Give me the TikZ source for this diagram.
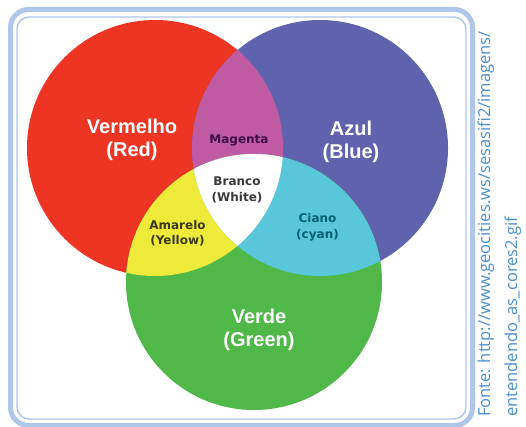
\documentclass[tikz,border=0pt]{standalone}
\usepackage{fontspec}
\newfontfamily\bigfont{Liberation Sans}
\newfontfamily\smallfont{DejaVu Sans}
\newfontfamily\srcfont{Open Sans}
\definecolor{cred}{HTML}{EE3524}
\definecolor{cblue}{HTML}{5F63AD}
\definecolor{cgreen}{HTML}{4FB848}
\definecolor{cmag}{HTML}{C05BA3}
\definecolor{cyel}{HTML}{EEEA3A}
\definecolor{ccyan}{HTML}{58C7DA}
\definecolor{frame}{HTML}{AEC6E7}
\definecolor{src}{HTML}{4B8FD1}
\definecolor{tmag}{HTML}{3D0A4A}
\definecolor{tgray}{HTML}{3A3A3A}
\definecolor{tyel}{HTML}{3A3A10}
\definecolor{tcyan}{HTML}{006070}
\tikzset{
  biglabel/.style={align=center, inner sep=0pt, text=white, font=\bigfont\bfseries\fontsize{20}{23}\selectfont},
  smalllabel/.style={align=center, inner sep=0pt, font=\smallfont\bfseries\fontsize{12}{15.5}\selectfont},
  srclabel/.style={inner sep=0pt, rotate=90, anchor=base west, text=src, font=\srcfont\fontsize{16.5}{20}\selectfont}
}
\begin{document}
\begin{tikzpicture}[x=1pt,y=-1pt]
\useasboundingbox (0,0) rectangle (526,427);
\fill[white] (0,0) rectangle (526,427);
% frame
\draw[frame, line width=5pt, rounded corners=18pt] (10.5,9.5) rectangle (472.5,425.5);
\draw[frame, line width=1.4pt, rounded corners=12pt] (17,17) rectangle (466,419);
% circle centres
\coordinate (cR) at (155,148);
\coordinate (cB) at (320,148);
\coordinate (cG) at (254,282);
\def\rr{128pt}
% primaries
\fill[cred] (cR) circle[radius=\rr];
\fill[cblue] (cB) circle[radius=\rr];
\fill[cgreen] (cG) circle[radius=\rr];
% overlaps
\begin{scope}
  \clip (cR) circle[radius=\rr];
  \fill[cmag] (cB) circle[radius=\rr];
  \fill[cyel] (cG) circle[radius=\rr];
\end{scope}
\begin{scope}
  \clip (cB) circle[radius=\rr];
  \fill[ccyan] (cG) circle[radius=\rr];
\end{scope}
\begin{scope}
  \clip (cR) circle[radius=\rr];
  \clip (cB) circle[radius=\rr];
  \fill[white] (cG) circle[radius=\rr];
\end{scope}
% labels
\node[biglabel] (lred) at (132,140) {Vermelho\\(Red)};
\node[biglabel] (lblue) at (351,142) {Azul\\(Blue)};
\node[biglabel] (lgreen) at (259,330) {Verde\\(Green)};
\node[smalllabel, text=tmag] (lmag) at (239,140) {Magenta};
\node[smalllabel, text=tgray] (lwhite) at (237,190) {Branco\\(White)};
\node[smalllabel, text=tyel] (lyel) at (177.5,233) {Amarelo\\(Yellow)};
\node[smalllabel, text=tcyan] (lcyan) at (317.5,227) {Ciano\\(cyan)};
% source
\node[srclabel] (src1) at (490,417) {Fonte: http://www.geocities.ws/sesasifi2/imagens/};
\node[srclabel] (src2) at (517,417) {entendendo\_as\_cores2.gif};
\end{tikzpicture}
\end{document}
